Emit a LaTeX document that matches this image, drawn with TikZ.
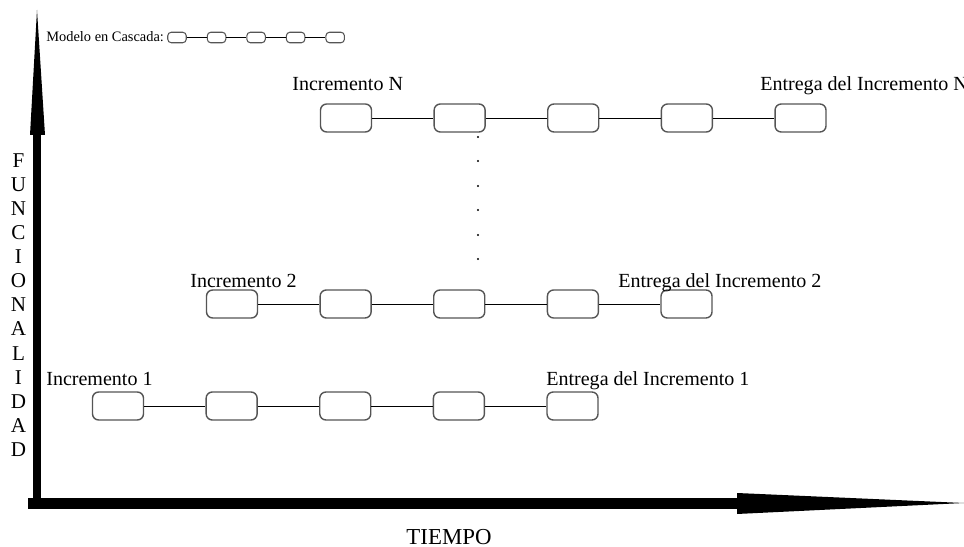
\documentclass[tikz,border=0pt]{standalone}
\usepackage{fontspec}
\setmainfont{Liberation Serif}
\usepackage{tikz}
\usetikzlibrary{positioning}
\definecolor{boxgray}{RGB}{85,85,85}
\tikzset{
  etapa/.style={rectangle, draw=boxgray, fill=white, rounded corners=3.5pt,
    minimum width=1.02cm, minimum height=0.56cm, inner sep=0pt, line width=0.8pt},
  mini/.style={rectangle, draw=boxgray, fill=white, rounded corners=2pt,
    minimum width=0.37cm, minimum height=0.21cm, inner sep=0pt, line width=0.6pt},
  tag/.style={font=\fontsize{11.4}{13}\selectfont, inner sep=0pt, anchor=base west},
  link/.style={line width=0.5pt, color=black},
  axis/.style={fill=black}
}

\begin{document}
\begin{tikzpicture}[x=0.02cm, y=-0.02cm, node distance=1.225cm]
  \useasboundingbox (0,0) rectangle (964,547);

  % Ejes
  \fill[axis] (33,135) rectangle (41,509);
  \fill[axis] (30,135) -- (37,10) -- (45,135) -- cycle;
  \fill[axis] (28,498) rectangle (738,509);
  \fill[axis] (737,493) -- (964,503) -- (737,514) -- cycle;
  \node[font=\fontsize{12}{13.7}\selectfont, align=center, inner sep=0pt] (func) at (18.5,305)
    {F\\U\\N\\C\\I\\O\\N\\A\\L\\I\\D\\A\\D};
  \node[font=\fontsize{13}{14}\selectfont, inner sep=0pt] (tiempo) at (449,537) {TIEMPO};

  % Leyenda
  \node[font=\fontsize{8.2}{9}\selectfont, inner sep=0pt, anchor=west] (leyenda) at (46,37) {Modelo en Cascada:};
  \node[mini] (m1) at (177,37.5) {};
  \node[mini, right=0.4cm of m1] (m2) {};
  \node[mini, right=0.4cm of m2] (m3) {};
  \node[mini, right=0.4cm of m3] (m4) {};
  \node[mini, right=0.4cm of m4] (m5) {};
  \draw[link] (m1) -- (m2) -- (m3) -- (m4) -- (m5);

  % Incremento 1
  \node[etapa] (a1) at (118,406) {};
  \node[etapa, right=of a1] (a2) {};
  \node[etapa, right=of a2] (a3) {};
  \node[etapa, right=of a3] (a4) {};
  \node[etapa, right=of a4] (a5) {};
  \draw[link] (a1) -- (a2) -- (a3) -- (a4) -- (a5);
  \node[tag] (inc1) at (46,385) {Incremento 1};
  \node[tag] (ent1) at (546,385) {Entrega del Incremento 1};

  % Incremento 2
  \node[etapa] (b1) at (232,304) {};
  \node[etapa, right=of b1] (b2) {};
  \node[etapa, right=of b2] (b3) {};
  \node[etapa, right=of b3] (b4) {};
  \node[etapa, right=of b4] (b5) {};
  \draw[link] (b1) -- (b2) -- (b3) -- (b4) -- (b5);
  \node[tag] (inc2) at (190,288) {Incremento 2};
  \node[tag] (ent2) at (618,288) {Entrega del Incremento 2};

  % Incremento N
  \node[etapa] (c1) at (346,118) {};
  \node[etapa, right=of c1] (c2) {};
  \node[etapa, right=of c2] (c3) {};
  \node[etapa, right=of c3] (c4) {};
  \node[etapa, right=of c4] (c5) {};
  \draw[link] (c1) -- (c2) -- (c3) -- (c4) -- (c5);
  \node[tag] (incN) at (292,91) {Incremento N};
  \node[tag] (entN) at (760,91) {Entrega del Incremento N};

  % Puntos
  \foreach \y in {137,161,186,210,235,259}
    \fill (478,\y) circle (1.1);
\end{tikzpicture}
\end{document}
